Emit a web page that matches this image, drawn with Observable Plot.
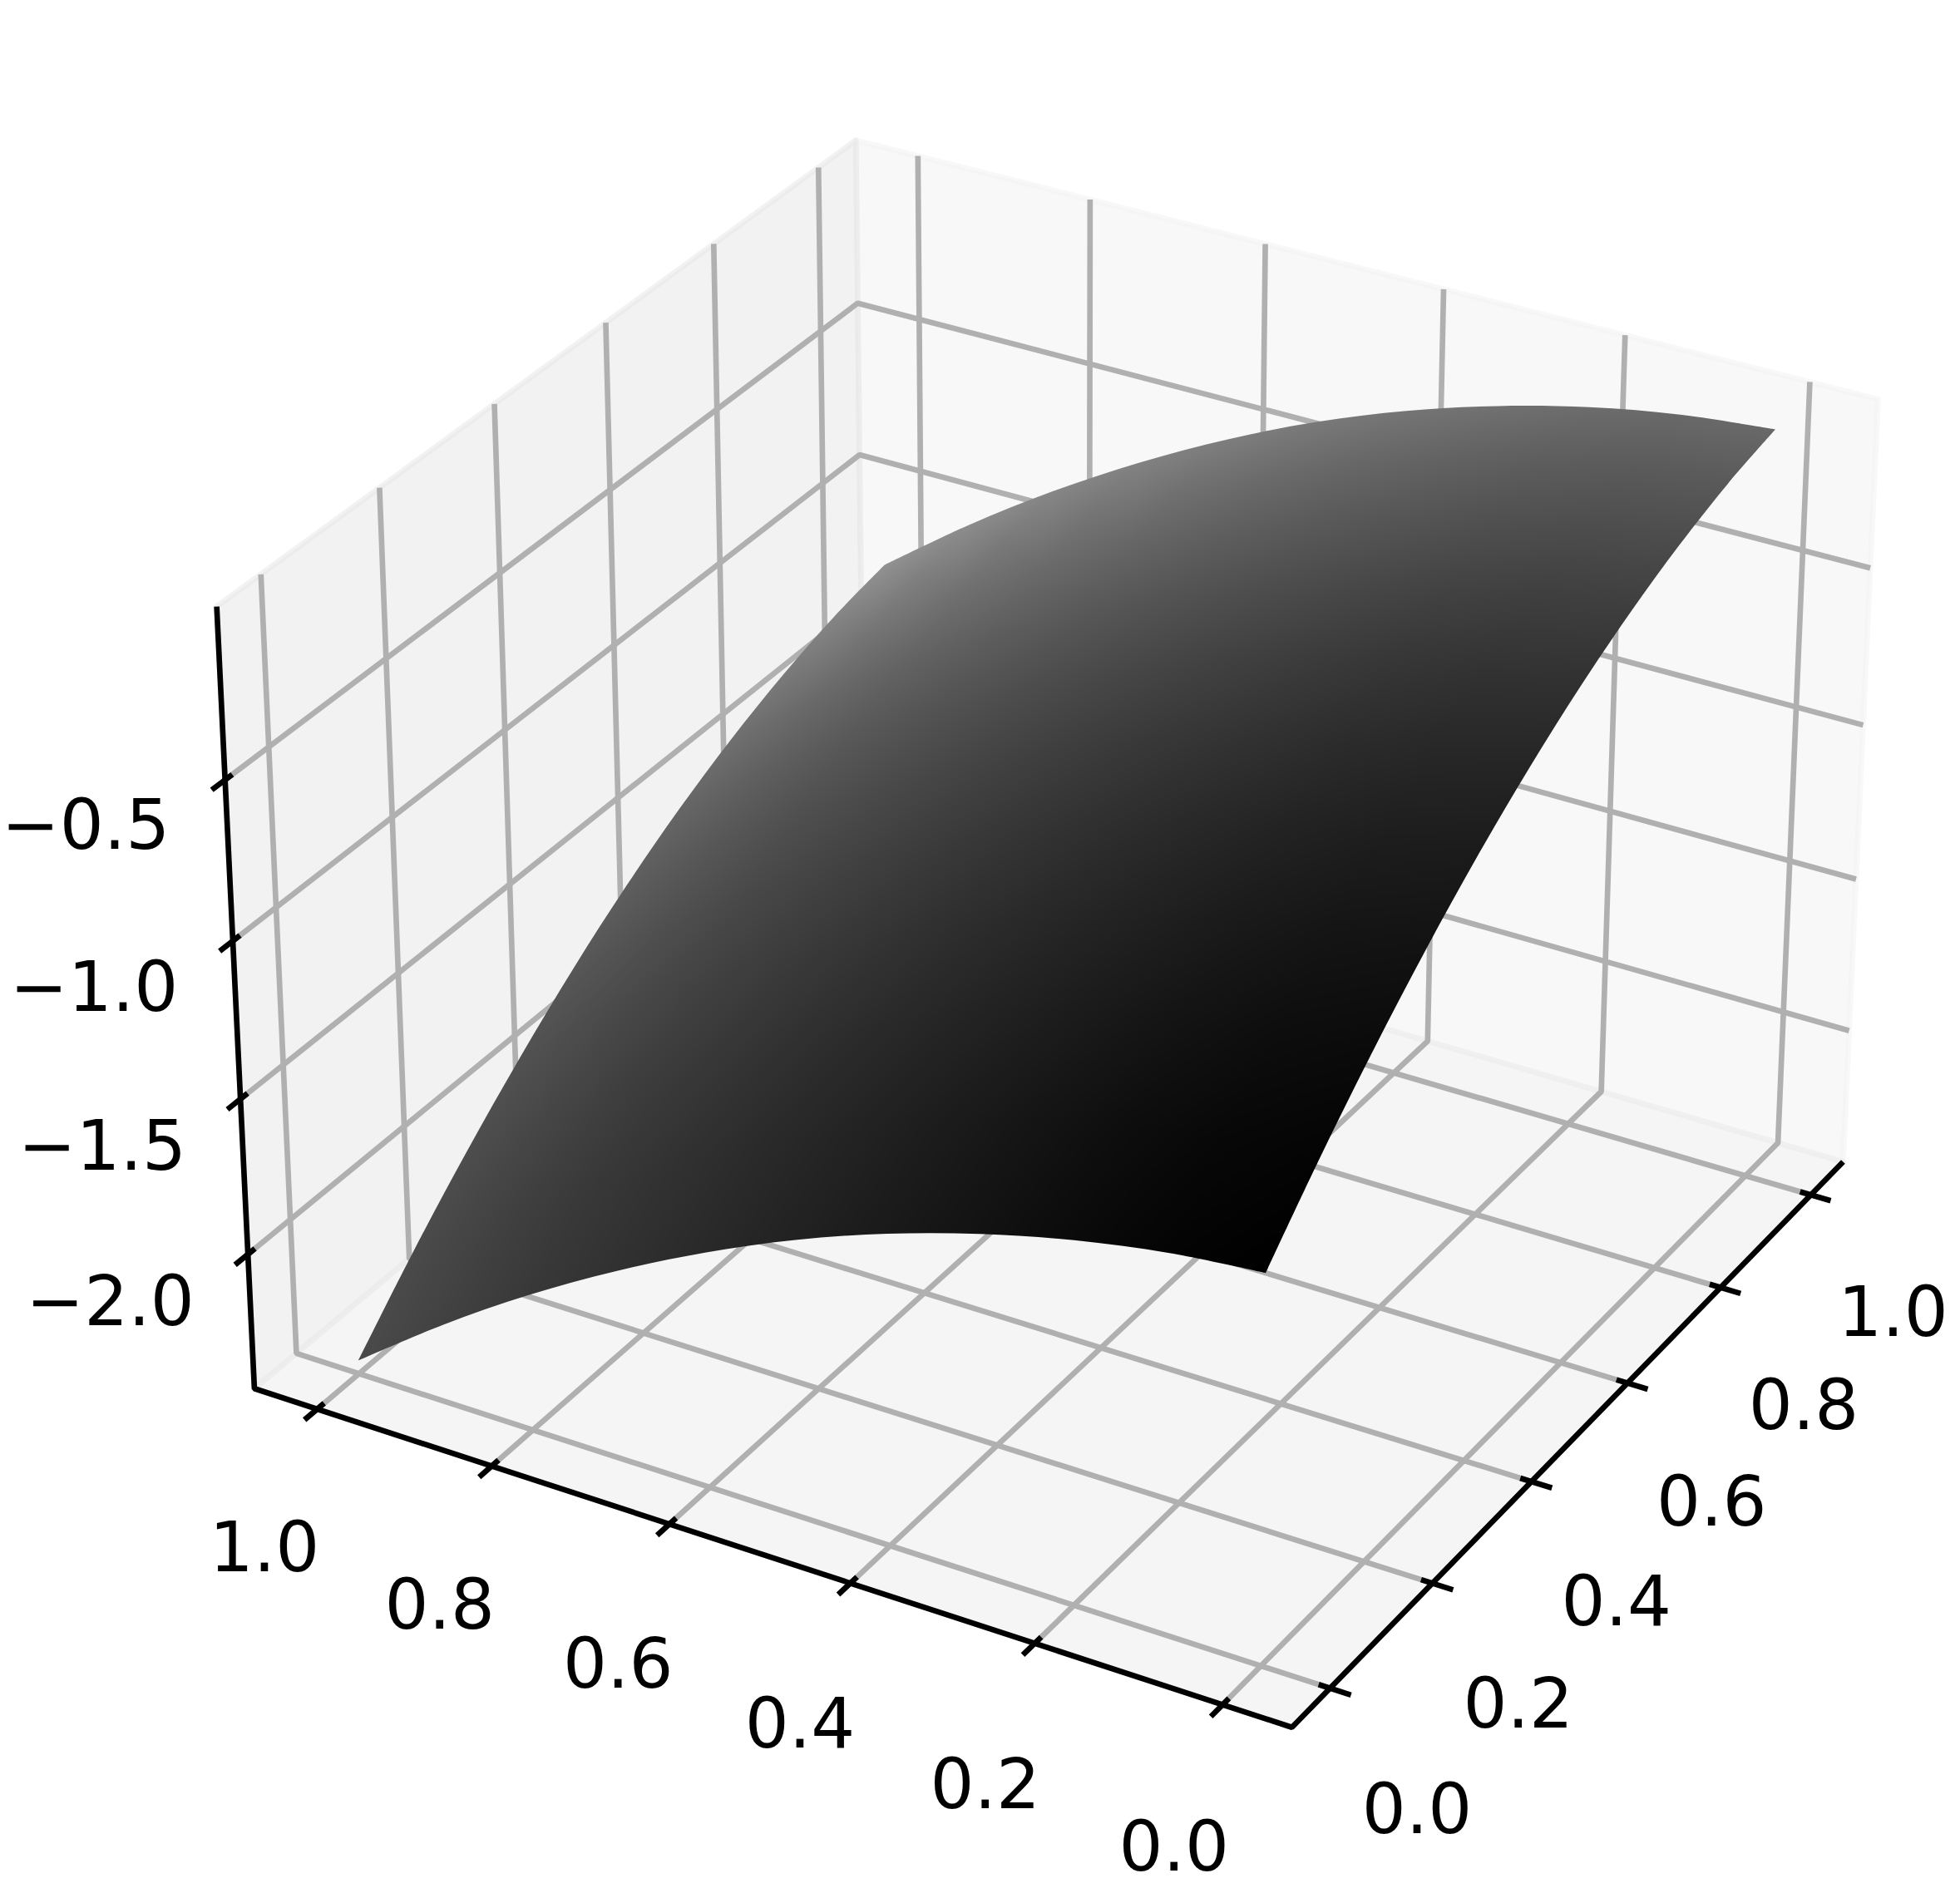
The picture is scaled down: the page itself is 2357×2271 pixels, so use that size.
<!doctype html><html><head><meta charset="utf-8">
<style>html,body{margin:0;padding:0;background:#fff}svg{display:block}</style></head><body>
<script src="https://cdn.jsdelivr.net/npm/d3@7"></script>
<script src="https://cdn.jsdelivr.net/npm/@observablehq/plot@0.6"></script>
<div id="chart"></div>
<script>
// ---- values ----
const xValues=[0,0.1,0.2,0.3,0.4,0.5,0.6,0.7,0.8,0.9,1];
const yValues=[0,0.1,0.2,0.3,0.4,0.5,0.6,0.7,0.8,0.9,1];
const zRows=[
[-1.206,-1.235,-1.285,-1.355,-1.444,-1.553,-1.683,-1.832,-2.000,-2.188,-2.396],
[-1.008,-1.037,-1.087,-1.157,-1.246,-1.355,-1.485,-1.634,-1.802,-1.990,-2.198],
[-0.829,-0.858,-0.908,-0.978,-1.067,-1.176,-1.306,-1.455,-1.623,-1.811,-2.019],
[-0.667,-0.696,-0.746,-0.816,-0.905,-1.014,-1.144,-1.293,-1.461,-1.649,-1.857],
[-0.522,-0.551,-0.601,-0.671,-0.760,-0.869,-0.999,-1.148,-1.316,-1.504,-1.712],
[-0.395,-0.424,-0.474,-0.544,-0.633,-0.742,-0.872,-1.021,-1.189,-1.377,-1.585],
[-0.286,-0.315,-0.365,-0.435,-0.524,-0.633,-0.763,-0.912,-1.080,-1.268,-1.476],
[-0.195,-0.224,-0.274,-0.344,-0.433,-0.542,-0.672,-0.821,-0.989,-1.177,-1.385],
[-0.121,-0.150,-0.200,-0.270,-0.359,-0.468,-0.598,-0.747,-0.915,-1.103,-1.311],
[-0.064,-0.093,-0.143,-0.213,-0.302,-0.411,-0.541,-0.690,-0.858,-1.046,-1.254],
[-0.026,-0.055,-0.105,-0.175,-0.264,-0.373,-0.503,-0.652,-0.820,-1.008,-1.216]];
const shadeRows=[
[0,0.015,0.04,0.07,0.10,0.13,0.16,0.19,0.22,0.255,0.29],
[0.015,0.029,0.052,0.081,0.11,0.139,0.167,0.196,0.225,0.258,0.292],
[0.04,0.052,0.075,0.102,0.13,0.157,0.184,0.212,0.239,0.272,0.304],
[0.07,0.081,0.102,0.128,0.154,0.18,0.207,0.233,0.259,0.29,0.321],
[0.105,0.115,0.135,0.159,0.184,0.209,0.234,0.259,0.283,0.313,0.343],
[0.145,0.154,0.172,0.196,0.219,0.243,0.266,0.29,0.313,0.342,0.37],
[0.19,0.197,0.214,0.237,0.259,0.281,0.303,0.325,0.348,0.375,0.402],
[0.24,0.246,0.262,0.283,0.304,0.325,0.345,0.366,0.387,0.413,0.439],
[0.295,0.30,0.314,0.334,0.353,0.373,0.393,0.412,0.432,0.456,0.481],
[0.35,0.353,0.367,0.385,0.403,0.422,0.44,0.458,0.476,0.5,0.523],
[0.41,0.412,0.424,0.441,0.458,0.475,0.492,0.509,0.526,0.548,0.57]];
const xTicks=[0,0.2,0.4,0.6,0.8,1];
const xTickLabels=["0.0","0.2","0.4","0.6","0.8","1.0"];
const yTicks=[0,0.2,0.4,0.6,0.8,1];
const yTickLabels=["0.0","0.2","0.4","0.6","0.8","1.0"];
const zTicks=[-0.5,-1,-1.5,-2];
const zTickLabels=["−0.5","−1.0","−1.5","−2.0"];
// box limits and camera
const xLim=[-0.0729,1.0729], yLim=[-0.0729,1.0729], zLim=[-2.44,0.028];
const camera={azim:-150,elev:30,dist:10,box:[1.1906,1.1906,0.893]};
const view={W:2357,H:2271,scale:12005,cx:1278.3,cy:1076.8};
const gridWidth=6.67, fontSize=83.33;

// perspective projection of the data cube onto a plane
const rad=Math.PI/180, ca=Math.cos(camera.azim*rad), sa=Math.sin(camera.azim*rad), ce=Math.cos(camera.elev*rad), se=Math.sin(camera.elev*rad);
const fw=[-ce*ca,-ce*sa,-se];
const eye=camera.box.map((b,i)=>b/2-camera.dist*fw[i]);
const rn=Math.hypot(fw[0],fw[1]);
const rt=[fw[1]/rn,-fw[0]/rn,0];
const up=[rt[1]*fw[2]-rt[2]*fw[1],rt[2]*fw[0]-rt[0]*fw[2],rt[0]*fw[1]-rt[1]*fw[0]];
const dot=(a,b)=>a[0]*b[0]+a[1]*b[1]+a[2]*b[2];
function project(x,y,z){
  const P=[camera.box[0]*(x-xLim[0])/(xLim[1]-xLim[0]),camera.box[1]*(y-yLim[0])/(yLim[1]-yLim[0]),camera.box[2]*(z-zLim[0])/(zLim[1]-zLim[0])];
  const Q=P.map((v,i)=>v-eye[i]); const w=dot(Q,fw);
  return {X:dot(Q,rt)/w,Y:dot(Q,up)/w};
}
const [x0,x1]=xLim,[y0,y1]=yLim,[z0,z1]=zLim;
const poly=(id,pts)=>pts.map(p=>({id,...project(...p)}));

const leftWall=poly("l",[[x0,y1,z0],[x1,y1,z0],[x1,y1,z1],[x0,y1,z1]]);
const rightWall=poly("r",[[x1,y0,z0],[x1,y1,z0],[x1,y1,z1],[x1,y0,z1]]);
const floorPane=poly("f",[[x0,y0,z0],[x1,y0,z0],[x1,y1,z0],[x0,y1,z0]]);

const gridLines=[
 ...xTicks.map((t,i)=>poly("x"+i,[[t,y0,z0],[t,y1,z0],[t,y1,z1]])),
 ...yTicks.map((t,i)=>poly("y"+i,[[x0,t,z0],[x1,t,z0],[x1,t,z1]])),
 ...zTicks.map((t,i)=>poly("z"+i,[[x0,y1,t],[x1,y1,t],[x1,y0,t]]))
].flat();
const axisLine=poly("a",[[x0,y1,z1],[x0,y1,z0],[x0,y0,z0],[x1,y0,z0]]);
const tickIn=0.012, tickOut=0.022, labelOut=0.091;
const tickLines=[
 ...xTicks.map((t,i)=>poly("tx"+i,[[t,y0+tickIn,z0],[t,y0-tickOut,z0]])),
 ...yTicks.map((t,i)=>poly("ty"+i,[[x0+tickIn,t,z0],[x0-tickOut,t,z0]])),
 ...zTicks.map((t,i)=>poly("tz"+i,[[x0+tickIn,y1,t],[x0-tickOut,y1,t]]))
].flat();
const xyLabels=[
 ...xTicks.map((t,i)=>({label:xTickLabels[i],...project(t,y0-labelOut,z0)})),
 ...yTicks.map((t,i)=>({label:yTickLabels[i],...project(x0-labelOut,t,z0)}))
];
const zLabels=zTicks.map((t,i)=>({label:zTickLabels[i],...project(x0-labelOut,y1,t)}));

const surface=xValues.flatMap((x,i)=>yValues.map((y,j)=>({shade:shadeRows[i][j],...project(x,y,zRows[i][j])})));

const plot=Plot.plot({
  width:view.W,height:view.H,margin:0,
  style:{background:"#fff",fontFamily:"'DejaVu Sans'"},
  x:{domain:[-view.cx/view.scale,(view.W-view.cx)/view.scale],range:[0,view.W],axis:null},
  y:{domain:[(view.cy-view.H)/view.scale,view.cy/view.scale],range:[view.H,0],axis:null},
  color:{type:"linear",domain:[0,1],range:["#000","#fff"]},
  marks:[
    Plot.line(rightWall,{x:"X",y:"Y",curve:"linear-closed",fill:"rgb(242,242,242)",fillOpacity:.5,stroke:"rgb(242,242,242)",strokeOpacity:.5,strokeWidth:gridWidth}),
    Plot.line(leftWall,{x:"X",y:"Y",curve:"linear-closed",fill:"rgb(230,230,230)",fillOpacity:.5,stroke:"rgb(230,230,230)",strokeOpacity:.5,strokeWidth:gridWidth}),
    Plot.line(floorPane,{x:"X",y:"Y",curve:"linear-closed",fill:"rgb(236,236,236)",fillOpacity:.5,stroke:"rgb(236,236,236)",strokeOpacity:.5,strokeWidth:gridWidth}),
    Plot.line(gridLines,{x:"X",y:"Y",z:"id",stroke:"#b0b0b0",strokeWidth:gridWidth,strokeLinecap:"butt",strokeLinejoin:"miter"}),
    Plot.line(axisLine,{x:"X",y:"Y",stroke:"#000",strokeWidth:gridWidth,strokeLinecap:"butt",strokeLinejoin:"miter"}),
    Plot.line(tickLines,{x:"X",y:"Y",z:"id",stroke:"#000",strokeWidth:gridWidth,strokeLinecap:"butt"}),
    Plot.raster(surface,{x:"X",y:"Y",fill:"shade",interpolate:"barycentric",pixelSize:1}),
    Plot.text(xyLabels,{x:"X",y:"Y",text:"label",fontSize,fill:"#000",dy:114,textAnchor:"middle"}),
    Plot.text(zLabels,{x:"X",y:"Y",text:"label",fontSize,fill:"#000",dy:6,textAnchor:"end"})
  ]
});
// keep the raster inside the outline of the surface
const sx=plot.scale("x").apply, sy=plot.scale("y").apply;
const edge=(pts)=>d3.line().x(p=>sx(p.X)).y(p=>sy(p.Y)).curve(d3.curveCatmullRom)(pts);
const n=xValues.length-1, m=yValues.length-1;
const at=(i,j)=>surface[i*(m+1)+j];
const e1=d3.range(m+1).map(j=>at(0,j)), e2=d3.range(n+1).map(i=>at(i,m)), e3=d3.range(m,-1,-1).map(j=>at(n,j)), e4=d3.range(n,-1,-1).map(i=>at(i,0));
const d=edge(e1)+edge(e2).replace(/^M/,"L")+edge(e3).replace(/^M/,"L")+edge(e4).replace(/^M/,"L")+"Z";
const svg=d3.select(plot);
svg.append("defs").append("clipPath").attr("id","surface-clip").append("path").attr("d",d);
svg.select("image").attr("clip-path","url(#surface-clip)");
document.getElementById("chart").append(plot);
</script></body></html>
